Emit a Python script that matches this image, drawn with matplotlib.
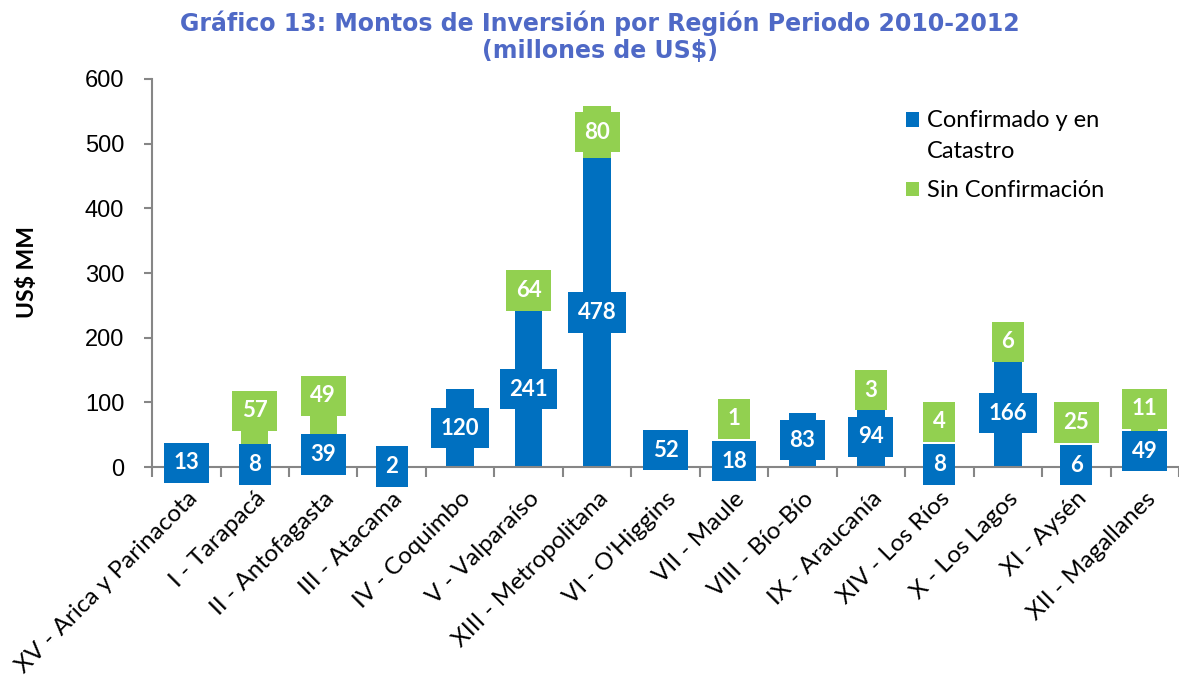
import numpy as np
import matplotlib
matplotlib.use('Agg')
import matplotlib.pyplot as plt
from matplotlib.patches import Patch, Rectangle
from matplotlib.legend_handler import HandlerPatch
from matplotlib.ticker import FixedLocator

# ============ 数据 ============
regiones = ['XV - Arica y Parinacota', 'I - Tarapacá', 'II - Antofagasta', 'III - Atacama',
            'IV - Coquimbo', 'V - Valparaíso', 'XIII - Metropolitana', "VI - O'Higgins",
            'VII - Maule', 'VIII - Bío-Bío', 'IX - Araucanía', 'XIV - Los Ríos',
            'X - Los Lagos', 'XI - Aysén', 'XII - Magallanes']
confirmado = [13, 8, 39, 2, 120, 241, 478, 52, 18, 83, 94, 8, 166, 6, 49]
sin_confirmacion = [0, 57, 49, 0, 0, 64, 80, 0, 1, 0, 3, 4, 6, 25, 11]

AZUL = '#0070C0'
VERDE = '#92D050'
TITULO = '#4F69C6'
GRIS = '#868686'

plt.rcParams['font.family'] = ['Lato', 'DejaVu Sans']


class HandlerCuadro(HandlerPatch):
    """Cuadro de leyenda alineado con la primera línea del texto."""

    def __init__(self, subir=0.0, **kw):
        super().__init__(**kw)
        self.subir = subir

    def create_artists(self, legend, orig_handle, xdescent, ydescent,
                       width, height, fontsize, trans):
        r = Rectangle((-xdescent, -ydescent + self.subir * fontsize), width, height,
                      facecolor=orig_handle.get_facecolor(), linewidth=0,
                      transform=trans)
        return [r]


fig = plt.figure(figsize=(11.79, 6.75), dpi=100)
ax = fig.add_axes([0.129, 0.308, 0.871, 0.575])

x = np.arange(len(regiones))
conf = np.array(confirmado)
sinc = np.array(sin_confirmacion)

ax.bar(x, conf, width=0.4, color=AZUL, zorder=2)
ax.bar(x, sinc, width=0.4, bottom=conf, color=VERDE, zorder=2)

ax.set_xlim(-0.5, len(regiones) - 0.5)
ax.set_ylim(0, 600)

# etiquetas con caja
caja = dict(boxstyle='square,pad=0.43', linewidth=0)
for xi, c, s in zip(x, conf, sinc):
    ax.text(xi, c / 2, f'{c}', ha='center', va='center', color='white',
            fontsize=16, fontweight='bold', zorder=4,
            bbox=dict(caja, facecolor=AZUL))
    if s > 0:
        # si el segmento es muy pequeño, la etiqueta se sube sobre la barra
        if s >= 60:
            y_lab = c + s / 2
        else:
            y_lab = max(c + s + 22, c / 2 + 66)
        ax.text(xi, y_lab, f'{s}', ha='center', va='center', color='white',
                fontsize=16, fontweight='bold', zorder=5,
                bbox=dict(caja, facecolor=VERDE))

# ejes
for lado in ['top', 'right']:
    ax.spines[lado].set_visible(False)
for lado in ['left', 'bottom']:
    ax.spines[lado].set_color(GRIS)
    ax.spines[lado].set_linewidth(1.5)

ax.set_yticks(np.arange(0, 601, 100))
ax.tick_params(axis='y', direction='out', length=6, width=1.5, color=GRIS,
               labelsize=17, pad=14)
for t in ax.get_yticklabels():
    t.set_fontfamily('Liberation Sans')

ax.set_xticks(x)
ax.set_xticklabels(regiones, rotation=45, ha='right', rotation_mode='anchor',
                   fontsize=17.5)
ax.tick_params(axis='x', which='major', length=0, pad=15)
ax.xaxis.set_minor_locator(FixedLocator(np.arange(-0.5, len(regiones), 1)))
ax.tick_params(axis='x', which='minor', direction='out', length=7, width=1.5,
               color=GRIS)

ax.set_ylabel('US$ MM', fontsize=16.5, fontweight='bold')
ax.yaxis.set_label_coords(-0.111, 0.503)

fig.text(0.509, 0.985, 'Gráfico 13: Montos de Inversión por Región Periodo 2010-2012\n(millones de US$)',
         ha='center', va='top', fontsize=17, fontweight='bold', color=TITULO,
         family='DejaVu Sans', linespacing=1.2)

h_conf = Patch(facecolor=AZUL)
h_sinc = Patch(facecolor=VERDE)
leg = ax.legend([h_conf, h_sinc], ['Confirmado y en\nCatastro', 'Sin Confirmación'],
                loc='upper left', bbox_to_anchor=(0.734, 0.919), frameon=False,
                fontsize=17, handletextpad=0.35, labelspacing=0.75,
                handlelength=0.55, handleheight=0.55, borderpad=0, borderaxespad=0,
                handler_map={h_conf: HandlerCuadro(subir=0.72),
                             h_sinc: HandlerCuadro(subir=0.0)})
leg.get_texts()[0].set_linespacing(1.59)

plt.savefig('out.png', dpi=100)
